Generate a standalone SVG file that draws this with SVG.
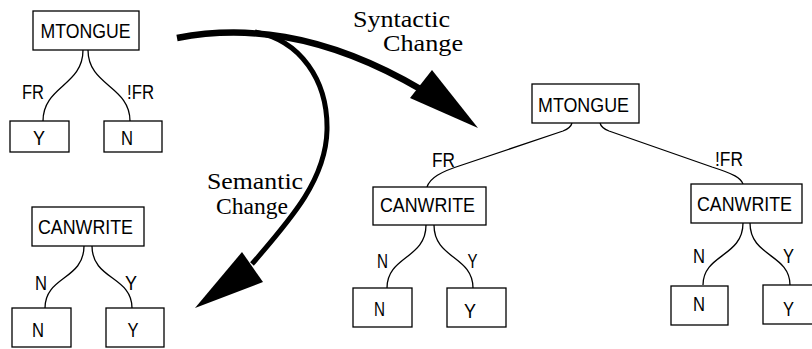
<svg xmlns="http://www.w3.org/2000/svg" width="812" height="349" viewBox="0 0 812 349">
  <style>
    .box { fill: #fff; stroke: #000; stroke-width: 1.3; }
    .nt { font-family: "Liberation Sans", Arial, sans-serif; font-size: 21px; text-anchor: middle; fill: #000; }
    .lb { font-family: "Liberation Sans", Arial, sans-serif; font-size: 20px; text-anchor: middle; fill: #000; }
    .cap { font-family: "Liberation Serif", "Times New Roman", serif; font-size: 24px; fill: #000; }
    .edge { fill: none; stroke: #000; stroke-width: 1.3; }
    .big { fill: none; stroke: #000; stroke-linecap: butt; }
  </style>

  <!-- tree edges -->
  <g id="connectors">
    <!-- original MTONGUE tree -->
    <path class="edge" d="M83,50 C83,86 43,86 43,121"/>
    <path class="edge" d="M88,50 C88,86 130,86 130,121"/>
    <!-- CANWRITE tree -->
    <path class="edge" d="M84,246 C84,280 45,276 45,308"/>
    <path class="edge" d="M92,246 C92,280 132,276 132,308"/>
    <!-- restructured tree, top level -->
    <path class="edge" d="M572,123 C571,127 568,129 563,131 L462,165 C440,172 430,178 427,187"/>
    <path class="edge" d="M600,123 C601,127 604,129 609,131 L712,167 C734,174 741,178 743,184"/>
    <!-- restructured tree, left CANWRITE -->
    <path class="edge" d="M426,225 C426,259 387,256 387,288"/>
    <path class="edge" d="M434,225 C434,259 473,256 473,288"/>
    <!-- restructured tree, right CANWRITE -->
    <path class="edge" d="M743,223 C743,257 703,254 703,285"/>
    <path class="edge" d="M750,223 C750,257 790,254 790,285"/>

    <!-- transformation arrows -->
    <path class="big" stroke-width="6.5" d="M177,38 C240,26 320,30 422,90"/>
    <polygon points="432,70 410,98 478,128" fill="#000"/>
    <path class="big" stroke-width="5" d="M255,32 C300,40 328,80 327,130 C326,180 290,220 252,264"/>
    <polygon points="242,252 263,282 195,308" fill="#000"/>
  </g>

  <!-- edge labels -->
  <g id="edge-labels">
    <text class="lb" x="33" y="99" textLength="22" lengthAdjust="spacingAndGlyphs">FR</text>
    <text class="lb" x="140.5" y="99" textLength="27" lengthAdjust="spacingAndGlyphs">!FR</text>
    <text class="lb" x="41" y="290" textLength="12" lengthAdjust="spacingAndGlyphs">N</text>
    <text class="lb" x="131" y="290" textLength="12" lengthAdjust="spacingAndGlyphs">Y</text>
    <text class="lb" x="443.5" y="167" textLength="23" lengthAdjust="spacingAndGlyphs">FR</text>
    <text class="lb" x="729" y="166" textLength="28" lengthAdjust="spacingAndGlyphs">!FR</text>
    <text class="lb" x="382.5" y="268" textLength="11" lengthAdjust="spacingAndGlyphs">N</text>
    <text class="lb" x="472.5" y="268" textLength="10" lengthAdjust="spacingAndGlyphs">Y</text>
    <text class="lb" x="699" y="263" textLength="12" lengthAdjust="spacingAndGlyphs">N</text>
    <text class="lb" x="788.5" y="263" textLength="11" lengthAdjust="spacingAndGlyphs">Y</text>
  </g>

  <!-- arrow captions -->
  <g id="captions">
    <text class="cap" x="353" y="27" textLength="97" lengthAdjust="spacingAndGlyphs">Syntactic</text>
    <text class="cap" x="383" y="51" textLength="80" lengthAdjust="spacingAndGlyphs">Change</text>
    <text class="cap" x="207" y="189" textLength="96" lengthAdjust="spacingAndGlyphs">Semantic</text>
    <text class="cap" x="216" y="214" textLength="72" lengthAdjust="spacingAndGlyphs">Change</text>
  </g>

  <!-- original tree: MTONGUE -->
  <g id="t1-mtongue">
    <rect class="box" x="33" y="11" width="106" height="39"/>
    <text class="nt" x="85.5" y="38" textLength="90" lengthAdjust="spacingAndGlyphs">MTONGUE</text>
  </g>
  <g id="t1-y">
    <rect class="box" x="10" y="121" width="59" height="31"/>
    <text class="nt" x="39" y="145" textLength="12" lengthAdjust="spacingAndGlyphs">Y</text>
  </g>
  <g id="t1-n">
    <rect class="box" x="104" y="121" width="58" height="31"/>
    <text class="nt" x="127" y="145" textLength="12" lengthAdjust="spacingAndGlyphs">N</text>
  </g>

  <!-- original tree: CANWRITE -->
  <g id="t2-canwrite">
    <rect class="box" x="32" y="207" width="112" height="39"/>
    <text class="nt" x="85.5" y="234" textLength="95" lengthAdjust="spacingAndGlyphs">CANWRITE</text>
  </g>
  <g id="t2-n">
    <rect class="box" x="12" y="308" width="59" height="39"/>
    <text class="nt" x="38" y="337" textLength="12" lengthAdjust="spacingAndGlyphs">N</text>
  </g>
  <g id="t2-y">
    <rect class="box" x="106" y="308" width="58" height="39"/>
    <text class="nt" x="133" y="337" textLength="11" lengthAdjust="spacingAndGlyphs">Y</text>
  </g>

  <!-- restructured tree -->
  <g id="t3-mtongue">
    <rect class="box" x="532" y="84" width="107" height="39"/>
    <text class="nt" x="583.5" y="112" textLength="91" lengthAdjust="spacingAndGlyphs">MTONGUE</text>
  </g>
  <g id="t3-canwrite-fr">
    <rect class="box" x="373" y="187" width="113" height="38"/>
    <text class="nt" x="427.5" y="212" textLength="95" lengthAdjust="spacingAndGlyphs">CANWRITE</text>
  </g>
  <g id="t3-canwrite-nfr">
    <rect class="box" x="691" y="184" width="111" height="39"/>
    <text class="nt" x="744.5" y="211" textLength="95" lengthAdjust="spacingAndGlyphs">CANWRITE</text>
  </g>
  <g id="t3-fr-n">
    <rect class="box" x="353" y="288" width="59" height="39"/>
    <text class="nt" x="379.5" y="316" textLength="11" lengthAdjust="spacingAndGlyphs">N</text>
  </g>
  <g id="t3-fr-y">
    <rect class="box" x="447" y="288" width="59" height="39"/>
    <text class="nt" x="470" y="318" textLength="12" lengthAdjust="spacingAndGlyphs">Y</text>
  </g>
  <g id="t3-nfr-n">
    <rect class="box" x="671" y="286" width="57" height="39"/>
    <text class="nt" x="699" y="311" textLength="12" lengthAdjust="spacingAndGlyphs">N</text>
  </g>
  <g id="t3-nfr-y">
    <rect class="box" x="763" y="285" width="60" height="39"/>
    <text class="nt" x="788.5" y="316" textLength="11" lengthAdjust="spacingAndGlyphs">Y</text>
  </g>
</svg>
